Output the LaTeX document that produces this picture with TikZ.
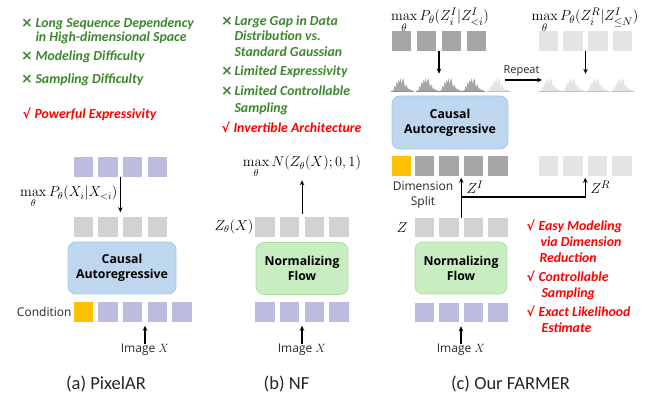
\documentclass[tikz,border=0pt]{standalone}
\usepackage[no-math]{fontspec}
\usepackage{amsmath}
\setmainfont{Carlito}
\newfontfamily\labelfont{Open Sans}
\newfontfamily\markfont{DejaVu Sans}
\usetikzlibrary{arrows.meta,calc,positioning}
\definecolor{listgreen}{RGB}{60,135,45}
\definecolor{listred}{RGB}{255,0,0}
\definecolor{imgpurple}{RGB}{189,188,222}
\definecolor{latgray}{RGB}{210,210,210}
\definecolor{tokgray}{RGB}{166,166,166}
\definecolor{palegray}{RGB}{228,228,228}
\definecolor{condyellow}{RGB}{255,192,0}
\definecolor{arblue}{RGB}{190,215,238}
\definecolor{arblueline}{RGB}{165,198,230}
\definecolor{nfgreen}{RGB}{199,237,193}
\definecolor{nfgreenline}{RGB}{172,222,162}

% small density sketch sitting on a base line: x, y, colour
\newcommand{\peaks}[3]{%
  \begin{scope}[shift={(#1,#2)}]
    \fill[#3] (0,0) -- (1.5,-1) -- (2.5,-5) -- (3.5,-3) -- (4.5,-9) -- (5.5,-6) -- (6.5,-11) -- (7.5,-8)
      -- (8.5,-13) -- (9.5,-7) -- (10.5,-11) -- (11.5,-12.5) -- (12.5,-6) -- (13.5,-4) -- (14.5,-7)
      -- (15.5,-3) -- (17,-2) -- (19,-1) -- (21,0) -- cycle;
    \draw[#3!85!black, line width=0.3pt] (-1,0) -- (22,0);
  \end{scope}}

\tikzset{
  tok/.style={minimum size=19.5pt, inner sep=0pt, outer sep=0pt},
  model/.style={rounded corners=8pt, minimum width=#1, minimum height=52pt, align=center,
    line width=0.8pt, font=\labelfont\bfseries\fontsize{12.3}{15}\selectfont},
  tag/.style={inner sep=0pt, text=black!85, font=\labelfont\fontsize{12}{15}\selectfont},
  mathlbl/.style={inner sep=0pt, font=\fontsize{14}{15}\selectfont},
  listg/.style={anchor=base west, inner sep=0pt, text=listgreen,
    font=\bfseries\itshape\fontsize{13.8}{15}\selectfont},
  listr/.style={listg, text=listred},
  markg/.style={anchor=base west, inner sep=0pt, text=listgreen, font=\markfont\bfseries\fontsize{14}{15}\selectfont},
  markr/.style={anchor=base west, inner sep=0pt, text=listred, font=\markfont\bfseries\fontsize{12.5}{15}\selectfont},
  caption/.style={inner sep=0pt, text=black!85, font=\fontsize{18.5}{20}\selectfont}
}

\begin{document}
\begin{tikzpicture}[x=1pt, y=-1pt, >={Stealth[length=5pt,width=4.5pt]}, line width=1.1pt]
    \useasboundingbox (0,0) rectangle (654,395);

    % ---------- (a) PixelAR ----------
    \foreach \nm/\yy/\txt in {la1/28/Long Sequence Dependency, la2/41.7/in High-dimensional Space,
                              la3/61/Modeling Difficulty, la4/84/Sampling Difficulty}
        \node[listg] (\nm) at (35,\yy) {\txt};
    \foreach \nm/\yy in {xa1/28, xa3/61, xa4/84}
        \node[markg] (\nm) at (20.5,\yy) {×};
    \node[markr] (va5) at (22,119) {√};
    \node[listr] (la5) at (34,119) {Powerful Expressivity};

    \foreach \i in {1,...,4} {
        \node[tok, fill=imgpurple] (at\i) at ({83.5+24.6*(\i-1)},167) {};
        \node[tok, fill=latgray] (ag\i) at ({83.5+24.6*(\i-1)},227) {};
    }
    \node[tok, fill=condyellow] (ab0) at (83.5,312) {};
    \foreach \i in {1,...,4}
        \node[tok, fill=imgpurple] (ab\i) at ({83.5+24.6*\i},312) {};
    \node[model=108pt, fill=arblue, draw=arblueline] (arA) at (122,268) {Causal\\Autoregressive};
    \node[tag, anchor=east] (condA) at (72,312) {Condition};
    \node[mathlbl, anchor=base east] (lossA) at (118,197) {$\max\limits_\theta P_\theta(X_i|X_{<i})$};
    \draw[->, shorten >=5pt] ($(at2.south)!.5!(at3.south)$) -- ($(ag2.north)!.5!(ag3.north)$);
    \node[tag] (imgA) at (145,350) {Image $X$};
    \draw[->, shorten >=4pt] (imgA.north) -- (imgA.north |- ab2.south);
    \node[caption] (capA) at (106,384) {(a) PixelAR};

    % ---------- (b) NF ----------
    \foreach \nm/\yy/\txt in {lb1/26/Large Gap in Data, lb2/41/Distribution vs., lb3/57/Standard Gaussian,
                              lb4/76/Limited Expressivity, lb5/96/Limited Controllable, lb6/113/Sampling}
        \node[listg] (\nm) at (234,\yy) {\txt};
    \foreach \nm/\yy in {xb1/26, xb4/76, xb5/96}
        \node[markg] (\nm) at (220.5,\yy) {×};
    \node[markr] (vb7) at (221,133) {√};
    \node[listr] (lb7) at (233,133) {Invertible Architecture};

    \foreach \i in {1,...,4} {
        \node[tok, fill=latgray] (bg\i) at ({265+24.7*(\i-1)},227) {};
        \node[tok, fill=imgpurple] (bb\i) at ({265+24.7*(\i-1)},312) {};
    }
    \node[model=92pt, fill=nfgreen, draw=nfgreenline] (nfB) at (302,268.5) {Normalizing\\Flow};
    \node[mathlbl, anchor=east] (zB) at (254,227) {$Z_\theta(X)$};
    \node[mathlbl, anchor=base] (lossB) at (302,167) {$\max\limits_\theta N(Z_\theta(X);0,1)$};
    \coordinate (bgap) at ($(bg2.north)!.5!(bg3.north)$);
    \draw[->, shorten <=3pt, shorten >=2pt] (bgap) -- (bgap |- lossB.south);
    \node[tag] (imgB) at (302,350) {Image $X$};
    \draw[->, shorten >=4pt] (imgB.north) -- (imgB.north |- bb2.south);
    \node[caption] (capB) at (286.5,384) {(b) NF};

    % ---------- (c) Our FARMER ----------
    \node[mathlbl, anchor=base, font=\fontsize{15.5}{16}\selectfont] (lossC1) at (440,21) {$\max\limits_\theta P_\theta(Z_i^I|Z_{<i}^I)$};
    \node[mathlbl, anchor=base, font=\fontsize{15.5}{16}\selectfont] (lossC2) at (585,21) {$\max\limits_\theta P_\theta(Z_i^R|Z_{\le N}^I)$};
    \foreach \i in {1,...,4} {
        \node[tok, fill=tokgray] (tl\i) at ({401.5+25*(\i-1)},41) {};
        \node[tok, fill=palegray] (tr\i) at ({548.5+24.7*(\i-1)},41) {};
    }
    \draw[->] ($(tl2.south)!.5!(tl3.south)$) -- ++(0,23);
    \draw[->] ($(tr2.south)!.5!(tr3.south)$) -- ++(0,23);

    % densities
    \foreach \xx in {392,417,440,463}
        \peaks{\xx}{91}{tokgray};
    \foreach \xx in {488,540,563,587,612}
        \peaks{\xx}{91}{palegray};
    \node[tag, font=\labelfont\fontsize{11}{13}\selectfont] (repC) at (521.5,71) {Repeat};
    \coordinate (repfrom) at (505,80);
    \coordinate (repto) at (542,80);
    \draw[->] (repfrom) -- (repto);

    \node[model=116pt, minimum height=53pt, fill=arblue, draw=arblueline] (arC) at (450,122.5) {Causal\\Autoregressive};
    \node[tok, fill=condyellow] (ca0) at (401.5,166) {};
    \foreach \i in {1,...,4} {
        \node[tok, fill=tokgray] (ca\i) at ({400+24.5*\i},166) {};
        \node[tok, fill=palegray] (cr\i) at ({548.5+24.5*(\i-1)},166) {};
        \node[tok, fill=latgray] (cz\i) at ({400+24.5*\i},227.5) {};
        \node[tok, fill=imgpurple] (cb\i) at ({400+24.5*\i},312.5) {};
    }
    \node[model=92pt, fill=nfgreen, draw=nfgreenline] (nfC) at (461,268) {Normalizing\\Flow};
    \node[mathlbl, anchor=east] (zC) at (408,228) {$Z$};
    \node[tag, align=center] (splitC) at (423,195.5) {Dimension\\Split};

    \coordinate (zgap) at ($(cz2.north)!.5!(cz3.north)$);
    \coordinate (splitpt) at (zgap |- 0,197);
    \draw[->, shorten >=2pt] (zgap) -- ($(ca2.south)!.5!(ca3.south)$);
    \draw[->, shorten >=2pt] (splitpt) -| ($(cr2.south)!.5!(cr3.south)$);
    \node[mathlbl, anchor=west, font=\fontsize{15}{16}\selectfont] (zIC) at (466,187) {$Z^I$};
    \node[mathlbl, anchor=west, font=\fontsize{15}{16}\selectfont] (zRC) at (590,187) {$Z^R$};

    \node[tag] (imgC) at (461,350) {Image $X$};
    \draw[->, shorten >=4pt] (imgC.north) -- (imgC.north |- cb2.south);
    \node[caption] (capC) at (510.5,384) {(c) Our FARMER};

    \foreach \nm/\yy in {vc1/231, vc4/282, vc6/317}
        \node[markr] (\nm) at (526,\yy) {√};
    \foreach \nm/\xx/\yy/\txt in {lc1/538/231/Easy Modeling, lc2/540/247/via Dimension, lc3/539/263/Reduction,
                                  lc4/538/282/Controllable, lc5/541/298/Sampling,
                                  lc6/538/317/Exact Likelihood, lc7/541/333/Estimate}
        \node[listr] (\nm) at (\xx,\yy) {\txt};
\end{tikzpicture}
\end{document}
